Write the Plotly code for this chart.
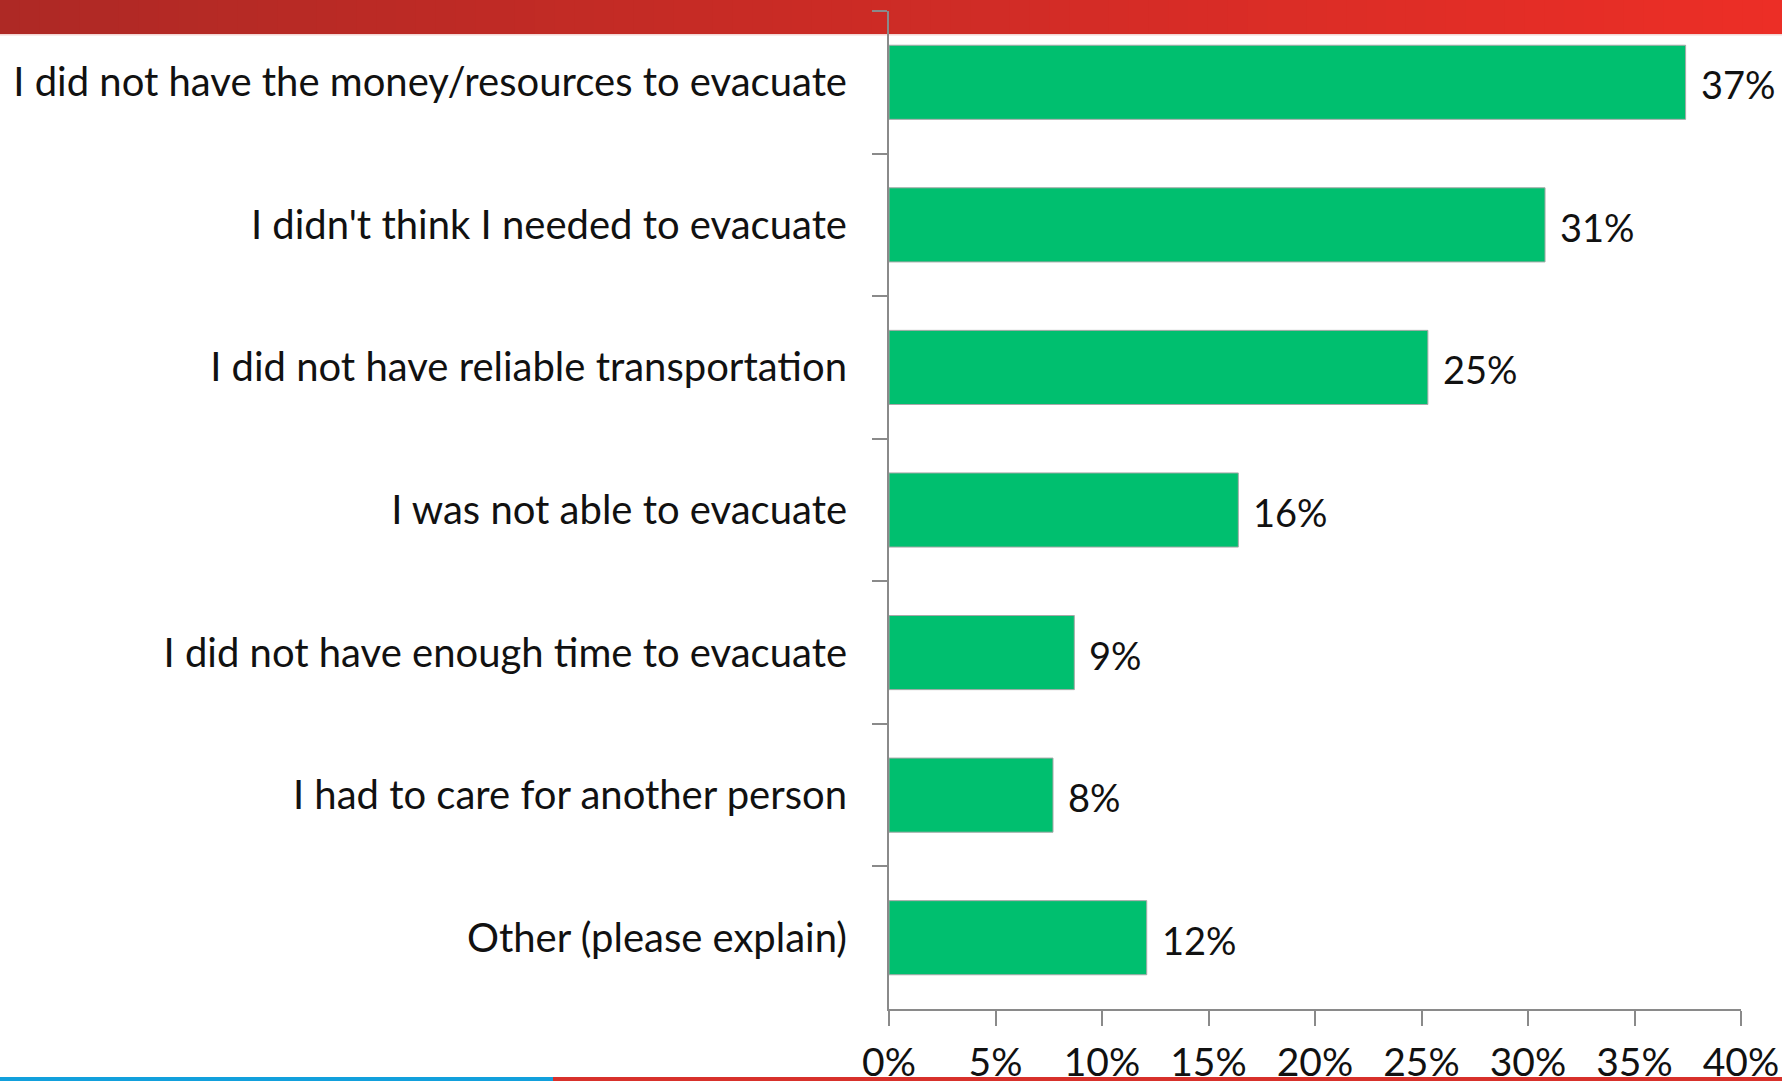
import plotly.graph_objects as go

# Survey responses: reasons for not evacuating (percent of respondents)
reasons = [
    "I did not have the money/resources to evacuate",
    "I didn't think I needed to evacuate",
    "I did not have reliable transportation",
    "I was not able to evacuate",
    "I did not have enough time to evacuate",
    "I had to care for another person",
    "Other (please explain)",
]
shares = [37.4, 30.8, 25.3, 16.4, 8.7, 7.7, 12.1]
x_ticks = [0, 5, 10, 15, 20, 25, 30, 35, 40]
x_tick_text = [f"{t}%" for t in x_ticks]

W, H = 1782, 1081
M_L, M_R, M_T, M_B = 889, 41, 11, 72
PW, PH = W - M_L - M_R, H - M_T - M_B

FONT = "Lato"
GREEN = "#00BF6F"
AXIS = "#8a8a8a"


def px_x(p):
    return (p - M_L) / PW


def px_y(p):
    return 1 - (p - M_T) / PH


fig = go.Figure()
fig.add_trace(go.Bar(
    x=shares,
    y=reasons,
    orientation="h",
    marker=dict(color=GREEN, line=dict(color="#a8a8a8", width=1)),
    hoverinfo="skip",
))

# value labels to the right of each bar
for r, v in zip(reasons, shares):
    fig.add_annotation(
        x=v, y=r, xref="x", yref="y",
        text=f"{v:.0f}%", showarrow=False,
        xanchor="left", xshift=13, yshift=-2,
        font=dict(family=FONT, size=38, color="#111111"),
    )

shapes = []
# red gradient banner across the top
n = 90
c0, c1 = (174, 41, 37), (236, 46, 38)
for i in range(n):
    t = i / (n - 1)
    col = "rgb({},{},{})".format(*[round(a + (b - a) * t) for a, b in zip(c0, c1)])
    shapes.append(dict(
        type="rect", xref="paper", yref="paper", layer="below",
        x0=px_x(W * i / n), x1=px_x(W * (i + 1) / n + 1),
        y0=px_y(34), y1=px_y(-2),
        fillcolor=col, line=dict(width=0),
    ))
shapes.append(dict(
    type="rect", xref="paper", yref="paper", layer="below",
    x0=px_x(-2), x1=px_x(W + 2), y0=px_y(35.5), y1=px_y(34),
    fillcolor="#f3d6d4", line=dict(width=0),
))
# blue / red strip along the bottom edge
shapes.append(dict(
    type="rect", xref="paper", yref="paper", layer="above",
    x0=px_x(-2), x1=px_x(553), y0=px_y(H + 2), y1=px_y(1077),
    fillcolor="#12a0dc", line=dict(width=0),
))
shapes.append(dict(
    type="rect", xref="paper", yref="paper", layer="above",
    x0=px_x(553), x1=px_x(W + 2), y0=px_y(H + 2), y1=px_y(1077),
    fillcolor="#d8312b", line=dict(width=0),
))

fig.update_layout(
    width=W, height=H,
    margin=dict(l=M_L, r=M_R, t=M_T, b=M_B, pad=0, autoexpand=False),
    paper_bgcolor="white",
    plot_bgcolor="rgba(0,0,0,0)",
    showlegend=False,
    bargap=0.48,
    shapes=shapes,
    font=dict(family=FONT, color="#111111"),
    xaxis=dict(
        range=[0, 40],
        tickvals=x_ticks, ticktext=x_tick_text,
        showgrid=False, zeroline=False, automargin=False,
        showline=True, linecolor=AXIS, linewidth=2,
        ticks="outside", ticklen=15, tickwidth=2, tickcolor=AXIS,
        ticklabelstandoff=3,
        tickfont=dict(family=FONT, size=39, color="#111111"),
        fixedrange=True,
    ),
    yaxis=dict(
        autorange="reversed",
        showgrid=False, zeroline=False, automargin=False,
        showline=True, linecolor=AXIS, linewidth=2,
        ticks="outside", ticklen=15, tickwidth=2, tickcolor=AXIS,
        tickson="boundaries",
        ticklabelstandoff=32,
        tickfont=dict(family=FONT, size=40, color="#111111"),
        fixedrange=True,
    ),
)

fig.write_html("out.html", config={"displayModeBar": False})
